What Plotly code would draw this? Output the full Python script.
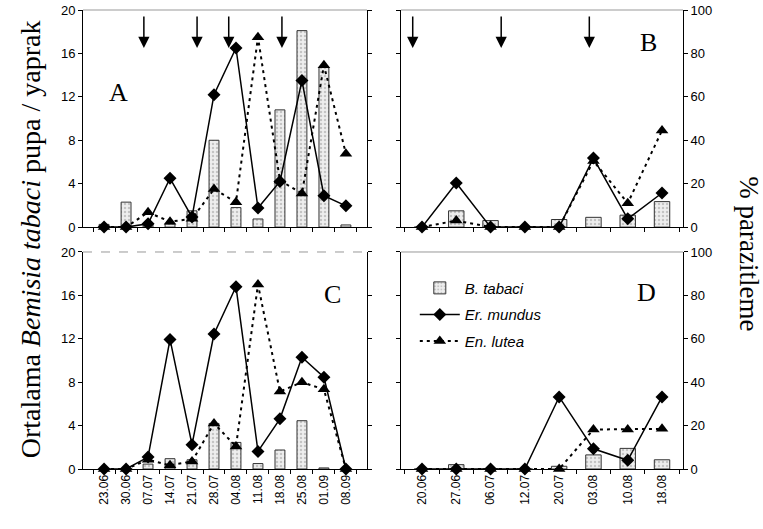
import plotly.graph_objects as go

cats_left = ["23.06", "30.06", "07.07", "14.07", "21.07", "28.07", "04.08", "11.08", "18.08", "25.08", "01.09", "08.09"]
cats_right = ["20.06", "27.06", "06.07", "12.07", "20.07", "03.08", "10.08", "18.08"]

# Panel A
a_tabaci = [0.25, 2.3, 0.3, 0.3, 1.5, 8.0, 1.8, 0.75, 10.8, 18.1, 14.7, 0.2]
a_mundus = [0, 0, 1.5, 22.5, 4.6, 61, 82.5, 8.8, 21, 67.5, 14.5, 9.8]
a_lutea = [0, 0, 6.8, 2.5, 3.8, 17.5, 11.5, 87.5, 21.5, 15.5, 74.5, 33.8]
a_arrows = [1.81, 4.23, 5.67, 8.09]

# Panel B
b_tabaci = [0, 1.5, 0.6, 0, 0.7, 0.9, 1.1, 2.35]
b_mundus = [0, 20.3, 0, 0, 0, 31.8, 3.8, 15.7]
b_lutea = [0, 3, 0, 0, 0, 30.5, 11, 44.5]
b_arrows = [-0.27, 2.31, 4.88]

# Panel C
c_tabaci = [0, 0, 0.45, 0.95, 0.85, 4.2, 2.45, 0.5, 1.75, 4.45, 0.1, 0]
c_mundus = [0, 0, 5.5, 59.7, 11.2, 62.2, 84, 8.1, 23.1, 51.5, 42.3, 0]
c_lutea = [0, 0, 4.3, 1.7, 3.5, 21, 10.4, 85, 35.7, 40, 36.7, 0]

# Panel D
d_tabaci = [0, 0.4, 0, 0, 0.25, 1.3, 1.9, 0.85]
d_mundus = [0, 0, 0, 0, 33.2, 9.3, 4, 33.2]
d_lutea = [0, 0, 0, 0, 0, 18.2, 18.2, 18.5]

left_ticks = [0, 4, 8, 12, 16, 20]
right_ticks = [0, 20, 40, 60, 80, 100]

SANS = "Liberation Sans"
SERIF = "Liberation Serif"

fig = go.Figure()

panels = [
    dict(cats=cats_left, tab=a_tabaci, mun=a_mundus, lut=a_lutea, x="x", yl="y", yr="y2", legend=False),
    dict(cats=cats_right, tab=b_tabaci, mun=b_mundus, lut=b_lutea, x="x2", yl="y3", yr="y4", legend=False),
    dict(cats=cats_left, tab=c_tabaci, mun=c_mundus, lut=c_lutea, x="x3", yl="y5", yr="y6", legend=False),
    dict(cats=cats_right, tab=d_tabaci, mun=d_mundus, lut=d_lutea, x="x4", yl="y7", yr="y8", legend=True),
]

for p in panels:
    fig.add_trace(go.Bar(
        x=p["cats"], y=p["tab"], xaxis=p["x"], yaxis=p["yl"], width=0.45,
        name="B. tabaci", legendgroup="g1", legendrank=1, showlegend=p["legend"],
        marker=dict(color="#eeeeee", line=dict(color="#333333", width=1),
                    pattern=dict(shape=".", bgcolor="#eeeeee", fgcolor="#9a9a9a", size=4, solidity=0.3)),
    ))
    fig.add_trace(go.Scatter(
        x=p["cats"], y=p["lut"], xaxis=p["x"], yaxis=p["yr"], mode="lines+markers",
        name="En. lutea", legendgroup="g3", legendrank=3, showlegend=p["legend"], cliponaxis=False,
        line=dict(color="black", width=2, dash="3px,4px"),
        marker=dict(symbol="triangle-up", size=11, color="black"),
    ))
    fig.add_trace(go.Scatter(
        x=p["cats"], y=p["mun"], xaxis=p["x"], yaxis=p["yr"], mode="lines+markers",
        name="Er. mundus", legendgroup="g2", legendrank=2, showlegend=p["legend"], cliponaxis=False,
        line=dict(color="black", width=1.5),
        marker=dict(symbol="diamond", size=10, color="black"),
    ))

xdom_l = [0, 0.4733]
xdom_r = [0.53, 1]
ydom_t = [0.527, 1]
ydom_b = [0, 0.4728]

def xax(dom, anchor, labels):
    return dict(domain=dom, anchor=anchor, type="category", showline=True, linecolor="black", linewidth=1,
                ticks="outside", ticklen=4, tickcolor="black", tickson="boundaries", automargin=False,
                showticklabels=labels, tickangle=-90, tickfont=dict(family=SANS, size=12, color="black"),
                showgrid=False, zeroline=False, fixedrange=True)

def yl(dom, anchor, labels):
    return dict(domain=dom, anchor=anchor, range=[0, 20], tickvals=left_ticks, showline=True, linecolor="black",
                linewidth=1, ticks="outside", ticklen=4, tickcolor="black", showticklabels=labels,
                automargin=False,
                tickfont=dict(family=SANS, size=13, color="black"), showgrid=False, zeroline=False, side="left")

def yr(dom, anchor, overl, labels):
    return dict(domain=dom, anchor=anchor, overlaying=overl, range=[0, 100], tickvals=right_ticks, showline=True,
                linecolor="black", linewidth=1, ticks="outside", ticklen=4, tickcolor="black",
                automargin=False,
                showticklabels=labels, tickfont=dict(family=SANS, size=13, color="black"),
                showgrid=False, zeroline=False, side="right")

fig.update_layout(
    xaxis=xax(xdom_l, "y", False),
    xaxis2=xax(xdom_r, "y3", False),
    xaxis3=xax(xdom_l, "y5", True),
    xaxis4=xax(xdom_r, "y7", True),
    yaxis=yl(ydom_t, "x", True),
    yaxis2=yr(ydom_t, "x", "y", False),
    yaxis3=yl(ydom_t, "x2", False),
    yaxis4=yr(ydom_t, "x2", "y3", True),
    yaxis5=yl(ydom_b, "x3", True),
    yaxis6=yr(ydom_b, "x3", "y5", False),
    yaxis7=yl(ydom_b, "x4", False),
    yaxis8=yr(ydom_b, "x4", "y7", True),
)

shapes = []
for xr, yr_, dash in [("x", "y", "solid"), ("x2", "y3", "solid"), ("x3", "y5", "dash"), ("x4", "y7", "solid")]:
    shapes.append(dict(type="line", xref=xr + " domain", yref=yr_ + " domain", x0=0, x1=1, y0=1, y1=1,
                       line=dict(color="#999999", width=1, dash=dash)))

annotations = []
for x in a_arrows:
    annotations.append(dict(x=x, y=0.825, xref="x", yref="y domain", text="", showarrow=True, ax=0, ay=-33,
                            arrowhead=2, arrowsize=1.5, arrowwidth=1.5, arrowcolor="black"))
for x in b_arrows:
    annotations.append(dict(x=x, y=0.825, xref="x2", yref="y3 domain", text="", showarrow=True, ax=0, ay=-33,
                            arrowhead=2, arrowsize=1.5, arrowwidth=1.5, arrowcolor="black"))

for letter, xr, yr_, xp, yp in [("A", "x", "y", 0.085, 0.62), ("B", "x2", "y3", 0.915, 0.928),
                                 ("C", "x3", "y5", 0.915, 0.878), ("D", "x4", "y7", 0.912, 0.888)]:
    annotations.append(dict(text=letter, xref=xr + " domain", yref=yr_ + " domain", x=xp, y=yp,
                            showarrow=False, font=dict(family=SERIF, size=26, color="black")))

annotations.append(dict(text="Ortalama <i>Bemisia tabaci</i> pupa / yaprak", xref="paper", yref="paper",
                        x=-0.087, y=0.5, xanchor="center", yanchor="middle", textangle=-90, showarrow=False,
                        font=dict(family=SERIF, size=28, color="black")))
annotations.append(dict(text="% parazitleme", xref="paper", yref="paper", x=1.11, y=0.47,
                        xanchor="center", yanchor="middle", textangle=90, showarrow=False,
                        font=dict(family=SERIF, size=27, color="black")))

fig.update_layout(
    width=763, height=529,
    margin=dict(l=83, r=80, t=10, b=60, autoexpand=False),
    paper_bgcolor="white", plot_bgcolor="white",
    showlegend=True,
    legend=dict(x=0.553, y=0.43, xanchor="left", yanchor="top", bgcolor="rgba(0,0,0,0)",
                font=dict(family=SANS, size=15, color="black", style="italic"),
                traceorder="grouped", tracegroupgap=4, itemwidth=40),
    shapes=shapes, annotations=annotations,
    bargap=0.5,
)

fig.write_html("out.html", config={"displayModeBar": False},
               post_script="document.body.style.margin='0';document.body.style.overflow='hidden';")
